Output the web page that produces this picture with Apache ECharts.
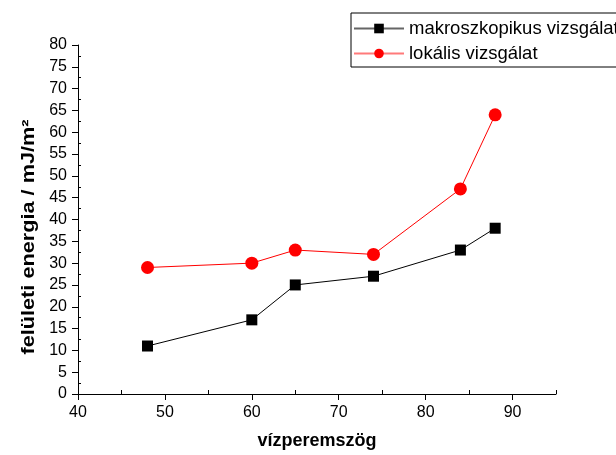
<!DOCTYPE html>
<html>
<head>
<meta charset="utf-8">
<script src="https://cdn.jsdelivr.net/npm/echarts@6/dist/echarts.min.js"></script>
<style>
  html, body { margin: 0; padding: 0; background: #fff; }
  #chart { width: 616px; height: 455px; }
</style>
</head>
<body>
<div id="chart"></div>
<script>
// contact angle (degrees) of each measurement
const angles = [48, 60, 65, 74, 84, 88];
// surface energy from macroscopic measurement, mJ/m²
const macroValues = [11, 17, 25, 27, 33, 38];
// surface energy from local measurement, mJ/m²
const localValues = [29, 30, 33, 32, 47, 64];
const seriesNames = ['makroszkopikus vizsgálat', 'lokális vizsgálat'];

// labelled (outward) ticks and small inward ticks between them
const xMajorTicks = [40, 50, 60, 70, 80, 90];
const xMinorTicks = [45, 55, 65, 75, 85, 95];
const yMajorTicks = [0, 5, 10, 15, 20, 25, 30, 35, 40, 45, 50, 55, 60, 65, 70, 75, 80];
const yMinorTicks = [2.5, 7.5, 12.5, 17.5, 22.5, 27.5, 32.5, 37.5, 42.5, 47.5,
                     52.5, 57.5, 62.5, 67.5, 72.5, 77.5];

const font = '"Liberation Sans", Arial, sans-serif';
const plotRect = { left: 78, right: 60, top: 45, bottom: 61 };

const chart = echarts.init(document.getElementById('chart'), null, { renderer: 'canvas' });
chart.setOption({
  animation: false,
  backgroundColor: '#fff',
  // second grid shares the same rectangle and only carries the inward ticks
  grid: [
    Object.assign({ containLabel: false }, plotRect),
    Object.assign({ containLabel: false }, plotRect)
  ],
  legend: {
    left: 351, top: 13,
    orient: 'vertical',
    data: [
      { name: seriesNames[0], lineStyle: { color: '#666' } },
      { name: seriesNames[1], lineStyle: { color: '#ff7a7a' } }
    ],
    borderColor: '#000', borderWidth: 1, borderRadius: 0,
    padding: [6, 30, 4, 2],
    itemGap: 6,
    itemWidth: 50, itemHeight: 12,
    textStyle: { fontFamily: font, fontSize: 18.5, color: '#000' }
  },
  graphic: [{
    type: 'text',
    x: 29, y: 237,
    rotation: Math.PI / 2,
    scaleX: 1.24,
    style: {
      text: 'felületi energia / mJ/m²',
      fontFamily: font, fontSize: 17.5, fontWeight: 'bold', fill: '#000',
      align: 'center', verticalAlign: 'middle'
    }
  }],
  xAxis: [{
    gridIndex: 0,
    type: 'value', min: 40, max: 95, interval: 10,
    name: 'vízperemszög', nameLocation: 'middle', nameGap: 38,
    nameTextStyle: { fontFamily: font, fontSize: 18, fontWeight: 'bold', color: '#000' },
    axisLine: { lineStyle: { color: '#000', width: 1 } },
    axisTick: { show: true, length: 6, customValues: xMajorTicks, lineStyle: { color: '#000' } },
    axisLabel: { fontFamily: font, fontSize: 16, color: '#000', margin: 11, customValues: xMajorTicks },
    splitLine: { show: false }
  }, {
    gridIndex: 1,
    type: 'value', min: 40, max: 95, interval: 10,
    axisLine: { show: false },
    axisTick: { show: true, inside: true, length: 4, customValues: xMinorTicks, lineStyle: { color: '#000' } },
    axisLabel: { show: false },
    splitLine: { show: false }
  }],
  yAxis: [{
    gridIndex: 0,
    type: 'value', min: 0, max: 80, interval: 5,
    axisLine: { show: true, lineStyle: { color: '#000', width: 1 } },
    axisTick: { show: true, length: 6, customValues: yMajorTicks, lineStyle: { color: '#000' } },
    axisLabel: { fontFamily: font, fontSize: 16, color: '#000', margin: 11, customValues: yMajorTicks },
    splitLine: { show: false }
  }, {
    gridIndex: 1,
    type: 'value', min: 0, max: 80, interval: 5,
    axisLine: { show: false },
    axisTick: { show: true, inside: true, length: 3, customValues: yMinorTicks, lineStyle: { color: '#000' } },
    axisLabel: { show: false },
    splitLine: { show: false }
  }],
  series: [
    {
      name: seriesNames[0], type: 'line',
      xAxisIndex: 0, yAxisIndex: 0,
      data: angles.map((a, i) => [a, macroValues[i]]),
      symbol: 'rect', symbolSize: 11,
      itemStyle: { color: '#000' },
      lineStyle: { color: '#000', width: 1 }
    },
    {
      name: seriesNames[1], type: 'line',
      xAxisIndex: 0, yAxisIndex: 0,
      data: angles.map((a, i) => [a, localValues[i]]),
      symbol: 'circle', symbolSize: 13,
      itemStyle: { color: '#ff0000' },
      lineStyle: { color: '#ff0000', width: 1 }
    }
  ]
});
</script>
</body>
</html>
